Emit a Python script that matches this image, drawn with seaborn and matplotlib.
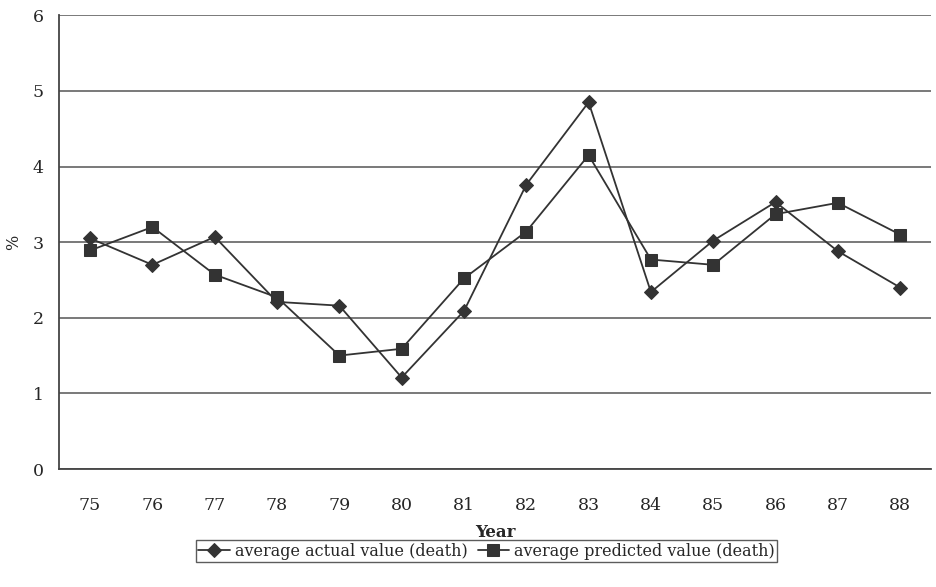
import numpy as np
import pandas as pd
import matplotlib.pyplot as plt
import seaborn as sns
from matplotlib.ticker import FixedLocator

plt.switch_backend('Agg')

# data
years = ['75', '76', '77', '78', '79', '80', '81', '82', '83', '84', '85', '86', '87', '88']
actual = [3.05, 2.70, 3.07, 2.21, 2.16, 1.21, 2.09, 3.76, 4.85, 2.34, 3.02, 3.53, 2.88, 2.40]
predicted = [2.89, 3.20, 2.57, 2.27, 1.50, 1.59, 2.52, 3.14, 4.15, 2.77, 2.70, 3.37, 3.52, 3.10]

sns.set_style("white")
plt.rcParams['font.family'] = ['DejaVu Serif']

pos = np.arange(len(years))
df = pd.DataFrame({'pos': pos, 'actual': actual, 'predicted': predicted})

fig = plt.figure(figsize=(9.36, 5.87), dpi=100)
ax = fig.add_axes([0.063, 0.201, 0.932, 0.773])

line_col = '#333333'
sns.lineplot(data=df, x='pos', y='actual', ax=ax, color=line_col, marker='D',
             markersize=7, markeredgecolor=line_col, linewidth=1.3,
             label='average actual value (death)')
sns.lineplot(data=df, x='pos', y='predicted', ax=ax, color=line_col, marker='s',
             markersize=9, markeredgecolor=line_col, linewidth=1.3,
             label='average predicted value (death)')

ax.set_xlim(-0.5, len(years) - 0.5)
ax.set_ylim(0, 6)
ax.set_yticks(range(0, 7))
ax.yaxis.grid(True, color='#555555', linewidth=1.1)
ax.set_axisbelow(True)

ax.set_xticks(pos)
ax.set_xticklabels(years)
ax.xaxis.set_minor_locator(FixedLocator(np.arange(0.5, len(years) - 0.5, 1)))
ax.tick_params(axis='x', which='major', length=0, pad=20, labelsize=12.5)
ax.tick_params(axis='x', which='minor', length=6, width=1, color='#333333', direction='out')
ax.tick_params(axis='y', which='major', length=6, width=1, color='#333333', direction='out',
               labelsize=12.5, pad=5)

for s in ['top', 'right']:
    ax.spines[s].set_visible(False)
for s in ['left', 'bottom']:
    ax.spines[s].set_color('#444444')
    ax.spines[s].set_linewidth(1.3)

ax.set_xlabel('Year', fontsize=12, fontweight='bold', labelpad=7)
ax.set_ylabel('%', fontsize=11.5)
ax.yaxis.set_label_coords(-0.042, 0.5)

ax.legend(loc='center', bbox_to_anchor=(0.52, 0.061), bbox_transform=fig.transFigure,
          ncol=2, frameon=True, fancybox=False, edgecolor='#333333', fontsize=11.5,
          handlelength=2.0, handletextpad=0.3, columnspacing=0.6, borderpad=0.15,
          borderaxespad=0)

fig.savefig('out.png', dpi=100)
plt.close(fig)
